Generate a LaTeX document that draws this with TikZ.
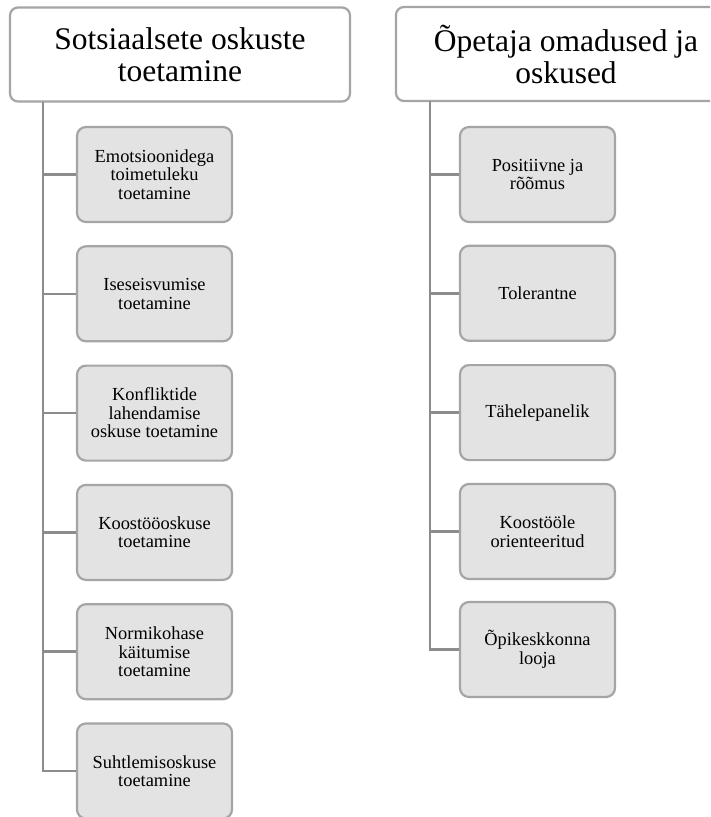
\documentclass[tikz,border=0pt]{standalone}
\usepackage{fontspec}
\setmainfont{Liberation Serif}
\definecolor{linegray}{HTML}{8C8C8C}
\definecolor{boxline}{HTML}{A5A5A5}
\definecolor{boxfill}{HTML}{E3E3E3}
\tikzset{
  header/.style={draw=boxline, line width=2.2pt, fill=white, rounded corners=8pt,
    minimum width=340pt, minimum height=94pt, align=center, inner sep=0pt,
    font=\fontsize{31.5}{32}\selectfont},
  child/.style={draw=boxline, line width=2.2pt, fill=boxfill, rounded corners=9pt,
    minimum width=155pt, minimum height=95pt, align=center, inner sep=0pt,
    font=\fontsize{18.4}{18.5}\selectfont},
  conn/.style={draw=linegray, line width=2.6pt}
}
\begin{document}
\begin{tikzpicture}[x=1pt,y=1pt]
\useasboundingbox (0,0) rectangle (710,-817);
\clip (0,0) rectangle (710,-817);
% left column
\node[header] (L) at (180,-54.5) {Sotsiaalsete oskuste\\toetamine};
\coordinate (ls) at (43,-101.5);
\node[child] (l1) at (154.5,-174.5) {Emotsioonidega\\toimetuleku\\toetamine};
\node[child] (l2) at (154.5,-293.8) {Iseseisvumise\\toetamine};
\node[child] (l3) at (154.5,-413.1) {Konfliktide\\lahendamise\\oskuse toetamine};
\node[child] (l4) at (154.5,-532.4) {Koostööoskuse\\toetamine};
\node[child] (l5) at (154.5,-651.7) {Normikohase\\käitumise\\toetamine};
\node[child] (l6) at (154.5,-771) {Suhtlemisoskuse\\toetamine};
\draw[conn] (ls) |- (l6.west);
\foreach \i in {1,...,5} { \draw[conn] (l\i.west) -- (l\i.west -| ls); }
% right column
\node[header] (R) at (566,-54) {Õpetaja omadused ja\\oskused};
\coordinate (rs) at (430,-101);
\node[child] (r1) at (537.5,-174.5) {Positiivne ja\\rõõmus};
\node[child] (r2) at (537.5,-293.3) {Tolerantne};
\node[child] (r3) at (537.5,-412.6) {Tähelepanelik};
\node[child] (r4) at (537.5,-531.5) {Koostööle\\orienteeritud};
\node[child] (r5) at (537.5,-649.5) {Õpikeskkonna\\looja};
\draw[conn] (rs) |- (r5.west);
\foreach \i in {1,...,4} { \draw[conn] (r\i.west) -- (r\i.west -| rs); }
\end{tikzpicture}
\end{document}
